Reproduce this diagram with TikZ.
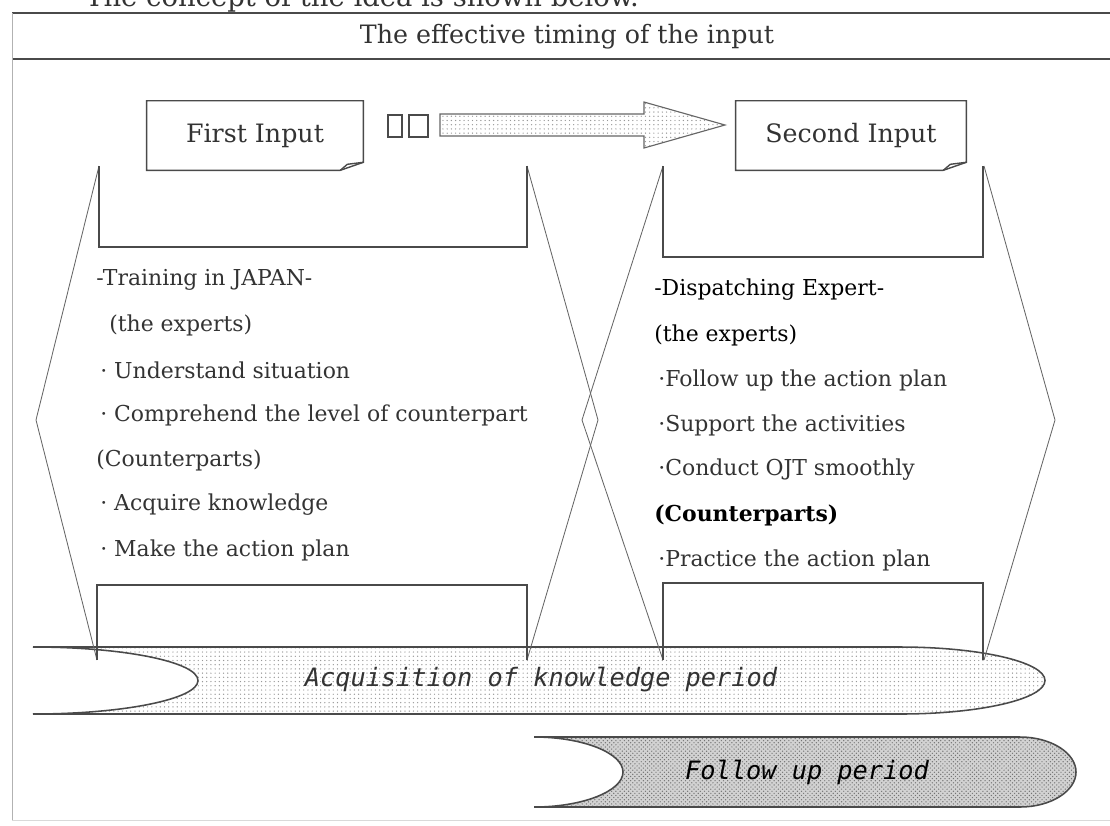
\documentclass[tikz,border=0pt]{standalone}
\usepackage{fontspec}
\setmainfont{DejaVu Serif}
\newfontfamily\bandfont{DejaVu Sans Mono}
\usetikzlibrary{patterns,calc}
\definecolor{linegray}{HTML}{4A4A4A}
\definecolor{textgray}{HTML}{333333}

\tikzset{
  txt/.style={textgray, inner sep=0pt, font=\fontsize{15.6}{18}\selectfont},
  bigtxt/.style={textgray, inner sep=0pt, font=\fontsize{18}{21}\selectfont},
  inbox/.style={bigtxt, minimum width=5.4cm, minimum height=1.725cm},
  boxline/.style={linegray, line width=1pt},
  hexline/.style={gray!80!black, line width=0.6pt},
  rectline/.style={linegray, line width=0.9pt},
  bandline/.style={linegray, line width=1.1pt},
  bandtxt/.style={textgray, inner sep=0pt, font=\bandfont\itshape\fontsize{18}{20}\selectfont}
}

\begin{document}
\begin{tikzpicture}[x=0.025cm, y=-0.025cm]
        \useasboundingbox (0,0) rectangle (1110,825);

        \node[bigtxt, anchor=base west, font=\fontsize{19.5}{22}\selectfont] (concept) at (85,6) {The concept of the idea is shown below.};

        \draw[linegray, line width=1.2pt] (12,13) -- (1110,13);
        \draw[linegray, line width=1.2pt] (12,59) -- (1110,59);
        \draw[gray!60, line width=0.6pt] (12,13) -- (12,820);
        \draw[gray!30, line width=0.6pt] (12,820) -- (1110,820);

        \node[bigtxt] (title) at (567,37) {The effective timing of the input};

        \node[inbox] (first) at (255,135.5) {First Input};
        \node[inbox, minimum width=5.75cm] (second) at (851,135.5) {Second Input};

        \draw[boxline] (first.north west) -- (first.north east) -- ($(first.south east)+(0,-8)$) -- ($(first.south east)+(-23,0)$) -- (first.south west) -- cycle;
        \draw[boxline] ($(first.south east)+(-23,0)$) -- ($(first.south east)+(-16,-6)$) -- ($(first.south east)+(0,-8)$);
        \draw[boxline] (second.north west) -- (second.north east) -- ($(second.south east)+(0,-8)$) -- ($(second.south east)+(-23,0)$) -- (second.south west) -- cycle;
        \draw[boxline] ($(second.south east)+(-23,0)$) -- ($(second.south east)+(-16,-6)$) -- ($(second.south east)+(0,-8)$);

        \draw[linegray, line width=0.8pt] (388,115) rectangle (402,137);
        \draw[linegray, line width=0.8pt] (409,115) rectangle (428,137);

        \draw[gray!80!black, line width=0.8pt, pattern=dots, pattern color=gray!80]
          (440,114) -- (644,114) -- (644,102) -- (725,125) -- (644,148) -- (644,136) -- (440,136) -- cycle;

        \draw[bandline, pattern=dots, pattern color=gray!80]
          (33,647) -- (900,647) .. controls (980,647) and (1045,662) .. (1045,680.5)
          .. controls (1045,699) and (980,714) .. (900,714) -- (33,714)
          .. controls (124,714) and (198,699) .. (198,680.5)
          .. controls (198,662) and (124,647) .. (33,647) -- cycle;
        \draw[bandline, preaction={fill=gray!35}, pattern=crosshatch dots, pattern color=gray!90!black]
          (534,737) -- (1020,737) .. controls (1051,737) and (1076,753) .. (1076,772)
          .. controls (1076,791) and (1051,807) .. (1020,807) -- (534,807)
          .. controls (583,807) and (623,791) .. (623,772)
          .. controls (623,753) and (583,737) .. (534,737) -- cycle;

        \draw[hexline] (99,166) -- (36,420) -- (97,660);
        \draw[hexline] (527,166) -- (598,420) -- (527,660);
        \draw[hexline] (663,166) -- (582,420) -- (663,660);
        \draw[hexline] (984,166) -- (1055,420) -- (984,660);

        \draw[rectline] (99,166) -- (99,247) -- (527,247) -- (527,166);
        \draw[rectline] (97,660) -- (97,585) -- (527,585) -- (527,660);
        \draw[rectline] (663,166) -- (663,257) -- (983,257) -- (983,166);
        \draw[rectline] (663,660) -- (663,583) -- (983,583) -- (983,660);

        \node[txt, anchor=west] (jpnhead) at (96,280) {-Training in JAPAN-};
        \node[txt, anchor=west] (jpnexp) at (109,325) {(the experts)};
        \node[txt, anchor=west] (jpnexpa) at (100,370) {· Understand situation};
        \node[txt, anchor=west] (jpnexpb) at (100,415) {· Comprehend the level of counterpart};
        \node[txt, anchor=west] (jpncp) at (96,460) {(Counterparts)};
        \node[txt, anchor=west] (jpncpa) at (100,505) {· Acquire knowledge};
        \node[txt, anchor=west] (jpncpb) at (100,550) {· Make the action plan};

        \node[txt, anchor=west, black] (exphead) at (654,290) {-Dispatching Expert-};
        \node[txt, anchor=west, black] (expexp) at (654,335) {(the experts)};
        \node[txt, anchor=west] (expexpa) at (658,380) {·Follow up the action plan};
        \node[txt, anchor=west] (expexpb) at (658,425) {·Support the activities};
        \node[txt, anchor=west] (expexpc) at (658,470) {·Conduct OJT smoothly};
        \node[txt, anchor=west, black, font=\bfseries\fontsize{15.6}{18}\selectfont] (expcp) at (654,515) {(Counterparts)};
        \node[txt, anchor=west] (expcpa) at (658,560) {·Practice the action plan};

        \node[bandtxt] (acqlabel) at (541,680) {Acquisition of knowledge period};
        \node[bandtxt, black] (fuplabel) at (807,772) {Follow up period};
\end{tikzpicture}
\end{document}
